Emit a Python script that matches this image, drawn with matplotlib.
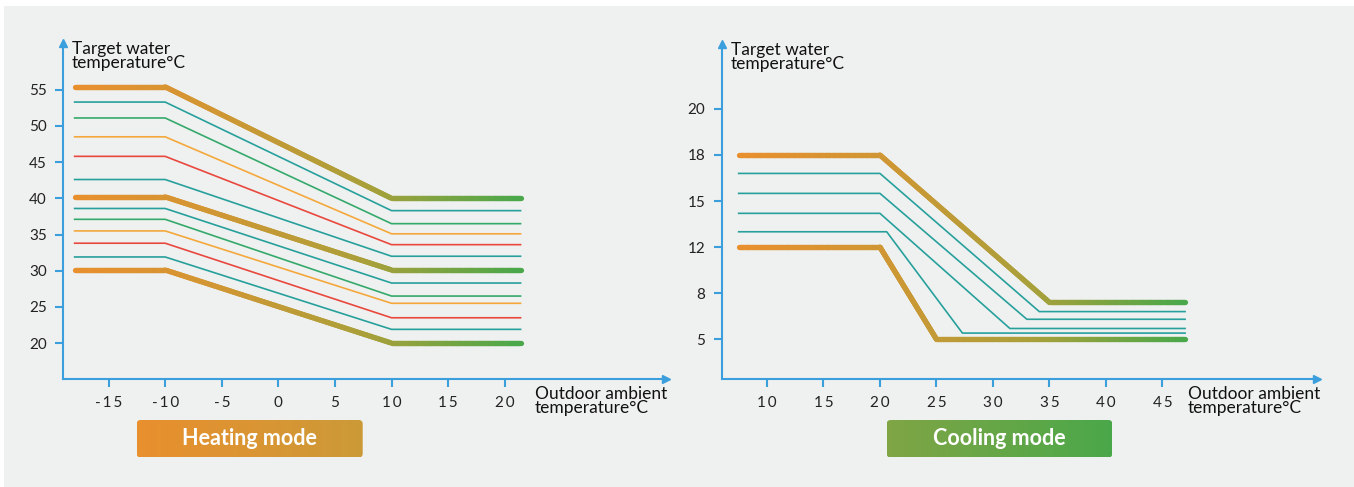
import numpy as np
import matplotlib
matplotlib.use('Agg')
import matplotlib.pyplot as plt
from matplotlib.collections import LineCollection
from matplotlib.colors import LinearSegmentedColormap
from matplotlib.patches import Rectangle, FancyBboxPatch
from matplotlib.transforms import IdentityTransform

plt.rcParams['font.family'] = ['Lato', 'DejaVu Sans']

W, H = 1354, 487

# heating mode: every curve is flat, slopes between -10 and 10, then flat again
heat_x = [-18, -10, 10, 21.4]
heat_left = [55.4, 53.3, 51.1, 48.5, 45.8, 42.6, 40.2, 38.6, 37.1, 35.5, 33.8, 31.9, 30.1]
heat_right = [40.0, 38.3, 36.5, 35.1, 33.6, 32.0, 30.1, 28.3, 26.5, 25.5, 23.5, 21.9, 20.0]
heat_kind = ['thick', 'teal', 'green', 'orange', 'red', 'teal', 'thick',
             'teal', 'green', 'orange', 'red', 'teal', 'thick']
heat_xticks = [-15, -10, -5, 0, 5, 10, 15, 20]
heat_yticks = [20, 25, 30, 35, 40, 45, 50, 55]

# cooling mode
cool_start = 7.5
cool_end = 47
cool_break1 = [20, 20, 20, 20, 20.6, 20]
cool_break2 = [35, 34.1, 33, 31.5, 27.3, 25]
cool_left = [18, 16.8, 15.5, 14.2, 13.0, 12]
cool_right = [7.4, 6.8, 6.3, 5.7, 5.4, 5.0]
cool_kind = ['thick', 'teal', 'teal', 'teal', 'teal', 'thick']
cool_xticks = [10, 15, 20, 25, 30, 35, 40, 45]
cool_yticks = [5, 8, 12, 15, 18, 20]

colors = {'teal': '#27a09c', 'green': '#35a96b', 'orange': '#f4a83c', 'red': '#e8483d'}
blue = '#3a9fdc'
thick_cmap = LinearSegmentedColormap.from_list('thick', ['#e98f2e', '#cf9734', '#a8a03a', '#4aa84a'])


def gradient_line(ax, xs, ys, lw):
    # cut each segment in short pieces so the colour can follow x
    px, py = [], []
    for i in range(len(xs) - 1):
        t = np.linspace(0, 1, 120, endpoint=False)
        px.extend(xs[i] + (xs[i + 1] - xs[i]) * t)
        py.extend(ys[i] + (ys[i + 1] - ys[i]) * t)
    px.append(xs[-1])
    py.append(ys[-1])
    pts = np.column_stack([px, py])
    segs = np.stack([pts[:-1], pts[1:]], axis=1)
    frac = (pts[:-1, 0] - xs[0]) / (xs[-1] - xs[0])
    lc = LineCollection(segs, colors=thick_cmap(frac), linewidths=lw,
                        capstyle='round', joinstyle='round', zorder=3)
    ax.add_collection(lc)


def spaced(v):
    # the x tick labels are set with a little letter spacing
    return '\u2009'.join(str(v))


def style_axes(ax):
    ax.set_facecolor('none')
    for s in ['top', 'right']:
        ax.spines[s].set_visible(False)
    for s in ['left', 'bottom']:
        ax.spines[s].set_color(blue)
        ax.spines[s].set_linewidth(1.5)
    ax.tick_params(direction='out', length=6, width=1.5, color=blue,
                   labelsize=11, labelcolor='#222222', pad=6)
    ax.plot(1, 0, marker='>', ms=6, color=blue, transform=ax.transAxes, clip_on=False)
    ax.plot(0, 1, marker='^', ms=6, color=blue, transform=ax.transAxes, clip_on=False)


def mode_box(x0, y0, x1, y1, c0, c1, text):
    bax = fig.add_axes([x0 / W, 1 - y1 / H, (x1 - x0) / W, (y1 - y0) / H])
    bax.axis('off')
    cm = LinearSegmentedColormap.from_list('box', [c0, c1])
    im = bax.imshow(np.linspace(0, 1, 256).reshape(1, -1), cmap=cm,
                    aspect='auto', extent=[0, 1, 0, 1])
    patch = FancyBboxPatch((x0, H - y1), x1 - x0, y1 - y0,
                           boxstyle='round,pad=0,rounding_size=4',
                           transform=IdentityTransform())
    im.set_clip_path(patch)
    bax.text(0.5, 0.5, text, transform=bax.transAxes, ha='center', va='center',
             color='white', fontsize=15.5, fontweight='bold')


fig = plt.figure(figsize=(W / 100, H / 100), dpi=100)
fig.patches.append(Rectangle((4 / W, 0), 1 - 4 / W, 1 - 6 / H, transform=fig.transFigure,
                             facecolor='#eff1f0', edgecolor='none', zorder=-5))

# ---- heating ----
ax1 = fig.add_axes([63.3 / W, 1 - 379.3 / H, (666 - 63.3) / W, (379.3 - 42.7) / H])
style_axes(ax1)
for lft, rgt, kind in zip(heat_left, heat_right, heat_kind):
    ys = [lft, lft, rgt, rgt]
    if kind == 'thick':
        gradient_line(ax1, heat_x, ys, 3.8)
    else:
        ax1.plot(heat_x, ys, color=colors[kind], lw=1.2, zorder=2)
ax1.set_xlim(-19, 34.25)
ax1.set_ylim(15, 61.5)
ax1.set_xticks(heat_xticks)
ax1.set_xticklabels([spaced(v) for v in heat_xticks])
ax1.set_yticks(heat_yticks)

# ---- cooling ----
ax2 = fig.add_axes([721.7 / W, 1 - 379.3 / H, (1317.3 - 721.7) / W, (379.3 - 44) / H])
style_axes(ax2)
ypos = lambda v: np.interp(v, cool_yticks, np.arange(len(cool_yticks)))
for i, kind in enumerate(cool_kind):
    xs = [cool_start, cool_break1[i], cool_break2[i], cool_end]
    ys = ypos([cool_left[i], cool_left[i], cool_right[i], cool_right[i]])
    if kind == 'thick':
        gradient_line(ax2, xs, ys, 3.8)
    else:
        ax2.plot(xs, ys, color=colors[kind], lw=1.2, zorder=2)
ax2.set_xlim(6, 58.7)
ax2.set_ylim(-0.87, 6.41)
ax2.set_xticks(cool_xticks)
ax2.set_xticklabels([spaced(v) for v in cool_xticks])
ax2.set_yticks(np.arange(len(cool_yticks)))
ax2.set_yticklabels([str(v) for v in cool_yticks])

# axis titles
lab = dict(fontsize=12.5, color='#111111', va='top', ha='left', linespacing=0.82)
fig.text(72 / W, 1 - 41 / H, 'Target water\ntemperature°C', **lab)
fig.text(731 / W, 1 - 42 / H, 'Target water\ntemperature°C', **lab)
fig.text(535 / W, 1 - 386 / H, 'Outdoor ambient\ntemperature°C', **lab)
fig.text(1188 / W, 1 - 386 / H, 'Outdoor ambient\ntemperature°C', **lab)

mode_box(136.7, 420, 362.7, 457.5, '#e98f2e', '#cc9a38', 'Heating mode')
mode_box(886.7, 420, 1112.3, 457.5, '#80a545', '#4aa84a', 'Cooling mode')

fig.savefig('out.png', dpi=100)
